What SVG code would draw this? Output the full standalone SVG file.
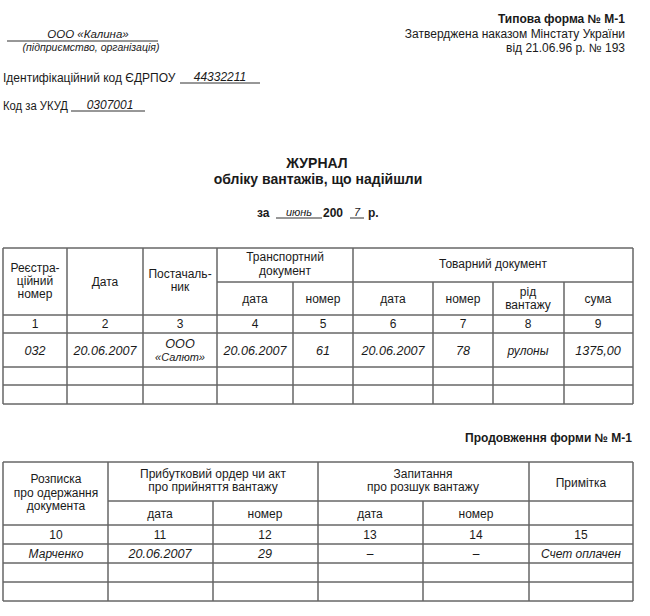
<svg xmlns="http://www.w3.org/2000/svg" width="650" height="616" viewBox="0 0 650 616">
<style>
text{font-family:"Liberation Sans",Arial,sans-serif;font-size:12px;fill:#1a1a1a}
.c{text-anchor:middle}
.r{text-anchor:end}
.i{font-style:italic}
.d{font-style:italic;font-size:12.6px}
.b{font-weight:bold}
.h{stroke:#1a1a1a;stroke-width:1}
.v{stroke:#666;stroke-width:1.5}
.u{stroke:#1a1a1a;stroke-width:0.9}
</style>
<rect width="650" height="616" fill="#fff"/>
<g id="header">
<text x="625" y="23" class="r b">Типова форма № М-1</text>
<text x="625" y="38" class="r">Затверджена наказом Мінстату України</text>
<text x="625" y="52" class="r">від 21.06.96 р. № 193</text>
<text x="88" y="38" class="c i" style="font-size:11.5px">ООО «Калина»</text>
<line class="u" x1="7" y1="41" x2="158" y2="41"/>
<text x="91" y="51" class="c i" style="font-size:10.5px">(підприємство, організація)</text>
<text x="3" y="82">Ідентифікаційний код ЄДРПОУ</text>
<text x="220" y="81" class="c i">44332211</text>
<line class="u" x1="180" y1="83" x2="260" y2="83"/>
<text x="3" y="110" textLength="65" lengthAdjust="spacingAndGlyphs">Код за УКУД</text>
<text x="110" y="109" class="c i">0307001</text>
<line class="u" x1="71" y1="111" x2="145" y2="111"/>
</g>
<g id="title">
<text x="317" y="168" class="c b" style="font-size:14px">ЖУРНАЛ</text>
<text x="318" y="184" class="c b" style="font-size:14px">обліку вантажів, що надійшли</text>
<text x="257" y="217" class="b">за</text>
<text x="299" y="216" class="c i" style="font-size:11px">июнь</text>
<line class="u" x1="276" y1="218" x2="322" y2="218"/>
<text x="323" y="217" class="b">200</text>
<text x="357" y="216" class="c i" style="font-size:11px">7</text>
<line class="u" x1="350" y1="218" x2="364" y2="218"/>
<text x="368" y="217" class="b">р.</text>
</g>
<g id="table1">
<g id="t1-lines">
<line class="h" x1="3" y1="248" x2="633" y2="248"/>
<line class="h" x1="217" y1="282" x2="633" y2="282"/>
<line class="h" x1="3" y1="315" x2="633" y2="315"/>
<line class="h" x1="3" y1="333" x2="633" y2="333"/>
<line class="h" x1="3" y1="367" x2="633" y2="367"/>
<line class="h" x1="3" y1="385" x2="633" y2="385"/>
<line class="h" x1="3" y1="404" x2="633" y2="404"/>
<line class="v" x1="3" y1="248" x2="3" y2="404"/>
<line class="v" x1="67" y1="248" x2="67" y2="404"/>
<line class="v" x1="143" y1="248" x2="143" y2="404"/>
<line class="v" x1="217" y1="248" x2="217" y2="404"/>
<line class="v" x1="293" y1="282" x2="293" y2="404"/>
<line class="v" x1="353" y1="248" x2="353" y2="404"/>
<line class="v" x1="433" y1="282" x2="433" y2="404"/>
<line class="v" x1="493" y1="282" x2="493" y2="404"/>
<line class="v" x1="564" y1="282" x2="564" y2="404"/>
<line class="v" x1="633" y1="248" x2="633" y2="404"/>
</g>
<g id="t1-head">
<text x="35" y="272" class="c">Реєстра-</text>
<text x="35" y="285" class="c">ційний</text>
<text x="35" y="298" class="c">номер</text>
<text x="105" y="286" class="c">Дата</text>
<text x="180" y="278" class="c">Постачаль-</text>
<text x="180" y="291" class="c">ник</text>
<text x="285" y="261" class="c">Транспортний</text>
<text x="285" y="275" class="c">документ</text>
<text x="493" y="268" class="c">Товарний документ</text>
<text x="255" y="303" class="c">дата</text>
<text x="323" y="303" class="c">номер</text>
<text x="393" y="303" class="c">дата</text>
<text x="463" y="303" class="c">номер</text>
<text x="528" y="296" class="c">рід</text>
<text x="528" y="309" class="c">вантажу</text>
<text x="598" y="303" class="c">сума</text>
</g>
<g id="t1-nums">
<text x="35" y="328" class="c">1</text>
<text x="105" y="328" class="c">2</text>
<text x="180" y="328" class="c">3</text>
<text x="255" y="328" class="c">4</text>
<text x="323" y="328" class="c">5</text>
<text x="393" y="328" class="c">6</text>
<text x="463" y="328" class="c">7</text>
<text x="528" y="328" class="c">8</text>
<text x="598" y="328" class="c">9</text>
</g>
<g id="t1-data">
<text x="35" y="355" class="c d">032</text>
<text x="105" y="355" class="c d">20.06.2007</text>
<text x="180" y="348" class="c d">ООО</text>
<text x="180" y="361" class="c i" style="font-size:11px">«Салют»</text>
<text x="255" y="355" class="c d">20.06.2007</text>
<text x="323" y="355" class="c d">61</text>
<text x="393" y="355" class="c d">20.06.2007</text>
<text x="463" y="355" class="c d">78</text>
<text x="528" y="355" class="c i">рулоны</text>
<text x="598" y="355" class="c d">1375,00</text>
</g>
</g>
<text x="632" y="442" class="r b">Продовження форми № М-1</text>
<g id="table2">
<g id="t2-lines">
<line class="h" x1="3" y1="462" x2="633" y2="462"/>
<line class="h" x1="108" y1="501" x2="633" y2="501"/>
<line class="h" x1="3" y1="525" x2="633" y2="525"/>
<line class="h" x1="3" y1="544" x2="633" y2="544"/>
<line class="h" x1="3" y1="563" x2="633" y2="563"/>
<line class="h" x1="3" y1="582" x2="633" y2="582"/>
<line class="h" x1="3" y1="601" x2="633" y2="601"/>
<line class="v" x1="3" y1="462" x2="3" y2="601"/>
<line class="v" x1="108" y1="462" x2="108" y2="601"/>
<line class="v" x1="213" y1="501" x2="213" y2="601"/>
<line class="v" x1="318" y1="462" x2="318" y2="601"/>
<line class="v" x1="423" y1="501" x2="423" y2="601"/>
<line class="v" x1="529" y1="462" x2="529" y2="601"/>
<line class="v" x1="633" y1="462" x2="633" y2="601"/>
</g>
<g id="t2-head">
<text x="56" y="483" class="c">Розписка</text>
<text x="56" y="497" class="c">про одержання</text>
<text x="56" y="510" class="c">документа</text>
<text x="213" y="478" class="c">Прибутковий ордер чи акт</text>
<text x="213" y="491" class="c">про прийняття вантажу</text>
<text x="423" y="478" class="c">Запитання</text>
<text x="423" y="491" class="c">про розшук вантажу</text>
<text x="581" y="487" class="c">Примітка</text>
<text x="160" y="518" class="c">дата</text>
<text x="265" y="518" class="c">номер</text>
<text x="370" y="518" class="c">дата</text>
<text x="476" y="518" class="c">номер</text>
</g>
<g id="t2-nums">
<text x="56" y="539" class="c">10</text>
<text x="160" y="539" class="c">11</text>
<text x="265" y="539" class="c">12</text>
<text x="370" y="539" class="c">13</text>
<text x="476" y="539" class="c">14</text>
<text x="581" y="539" class="c">15</text>
</g>
<g id="t2-data">
<text x="56" y="558" class="c i">Марченко</text>
<text x="160" y="558" class="c d">20.06.2007</text>
<text x="265" y="558" class="c d">29</text>
<text x="370" y="558" class="c i">–</text>
<text x="476" y="558" class="c i">–</text>
<text x="581" y="558" class="c i">Счет оплачен</text>
</g>
</g>
</svg>
